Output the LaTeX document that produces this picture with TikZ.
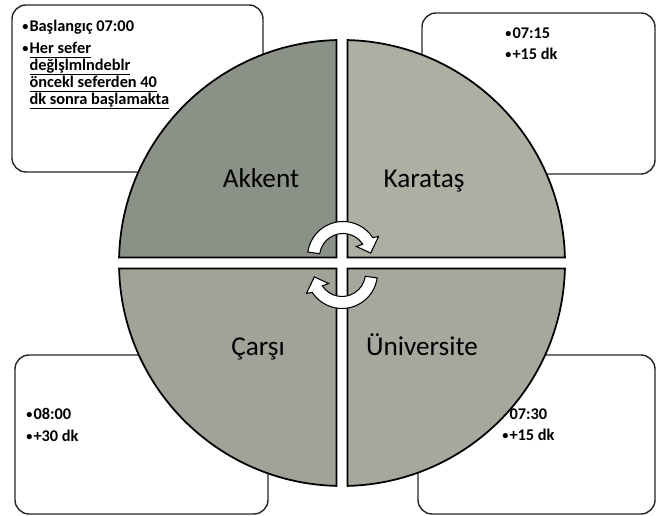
\documentclass[tikz,border=0pt]{standalone}
\usepackage{fontspec}
\setmainfont{Carlito}
\usepackage{xcolor}
\usepackage{tikz}
\usetikzlibrary{calc, positioning}
\definecolor{akkentgray}{RGB}{140,145,135}
\definecolor{karatasgray}{RGB}{172,175,162}
\definecolor{carsigray}{RGB}{160,164,152}
\definecolor{unigray}{RGB}{165,169,157}
\newcommand{\sefline}[1]{\setbox0=\hbox{#1}\rlap{\rule[-2.6pt]{\wd0}{0.8pt}}\box0}
\newcommand{\stopdot}{\raisebox{0.5pt}{\scalebox{0.75}{•}}\kern0.6pt}

\begin{document}
\begin{tikzpicture}[x=0.02cm, y=0.02cm,
    infobox/.style={draw=black!85, line width=0.8pt, rounded corners=8pt},
    boxtext/.style={font=\fontsize{9.3}{9.7}\selectfont\bfseries, align=left, inner sep=0pt, anchor=north west},
    sector/.style={draw=black, line width=1pt},
    stoplabel/.style={font=\fontsize{15.5}{18}\selectfont, anchor=base},
    cyclearrow/.style={draw=black, line width=0.6pt, fill=white}]
  \useasboundingbox (0,0) rectangle (656,516);
  \coordinate (C) at (342,253);
  \coordinate (U) at (343,259);
  \coordinate (L) at (342,243);
  % corner boxes
  \draw[infobox] (12,344) rectangle (263,511);
  \draw[infobox] (422,342) rectangle (655,503);
  \draw[infobox] (15,2) rectangle (268,161);
  \draw[infobox] (418,2) rectangle (655,161);
  \node[boxtext] (akkentnote) at (22,496) {\stopdot Başlangıç 07:00\\[2.8pt]
    \stopdot\sefline{Her sefer}\\
    \hphantom{\stopdot}\sefline{değlşlmlndeblr}\\
    \hphantom{\stopdot}\sefline{öncekl seferden 40}\\
    \hphantom{\stopdot}\sefline{dk sonra başlamakta}};
  \node[boxtext] (karatasnote) at (505,489) {\stopdot 07:15\\[2.5pt]\stopdot +15 dk};
  \node[boxtext] (carsinote) at (26,108) {\stopdot 08:00\\[2.5pt]\stopdot +30 dk};
  \node[boxtext] (uninote) at (502,108) {\hphantom{\stopdot}07:30\\[2.5pt]\stopdot +15 dk};
  % four quarters
  \draw[sector, fill=akkentgray] ($(C)+(-5.5,5.5)$) -- ($(C)+(178.59:223)$)
      arc[start angle=178.59, end angle=91.41, radius=223] -- cycle;
  \draw[sector, fill=karatasgray] ($(C)+(5.5,5.5)$) -- ($(C)+(88.59:223)$)
      arc[start angle=88.59, end angle=1.41, radius=223] -- cycle;
  \draw[sector, fill=carsigray] ($(C)+(-5.5,-5.5)$) -- ($(C)+(181.41:223)$)
      arc[start angle=181.41, end angle=268.59, radius=223] -- cycle;
  \draw[sector, fill=unigray] ($(C)+(5.5,-5.5)$) -- ($(C)+(271.41:223)$)
      arc[start angle=271.41, end angle=358.59, radius=223] -- cycle;
  % turning arrows in the middle
  \draw[cyclearrow] ($(U)+(172:35.5)$) arc[start angle=172, end angle=33, radius=35.5]
      -- ($(U)+(30:41)$) -- ($(U)+(8:28)$) -- ($(U)+(38:17)$) -- ($(U)+(33:23.5)$)
      arc[start angle=33, end angle=172, radius=23.5] -- cycle;
  \draw[cyclearrow] ($(L)+(352:35.5)$) arc[start angle=352, end angle=213, radius=35.5]
      -- ($(L)+(210:41)$) -- ($(L)+(188:28)$) -- ($(L)+(218:17)$) -- ($(L)+(213:23.5)$)
      arc[start angle=213, end angle=352, radius=23.5] -- cycle;
  % stop names
  \node[stoplabel] (akkent) at (261,328) {Akkent};
  \node[stoplabel] (karatas) at (424,328) {Karataş};
  \node[stoplabel] (carsi) at (258,160) {Çarşı};
  \node[stoplabel] (universite) at (422,160) {Üniversite};
\end{tikzpicture}
\end{document}
